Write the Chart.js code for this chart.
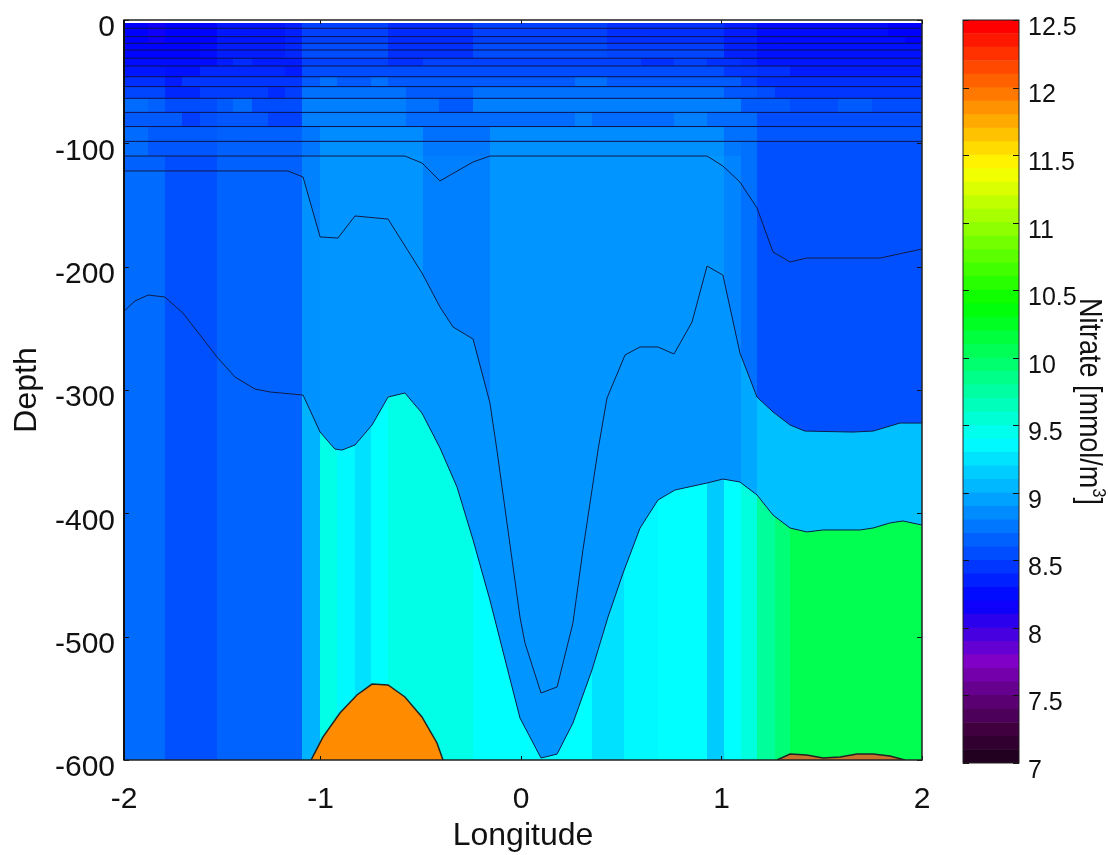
<!DOCTYPE html>
<html>
<head>
<meta charset="utf-8">
<title>Nitrate section</title>
<script src="https://cdn.jsdelivr.net/npm/chart.js@4/dist/chart.umd.min.js"></script>
<style>
    html, body { margin: 0; padding: 0; background: #fff; }
    canvas { position: absolute; top: 0; }
    #section { left: 0; }
    #colorbar { left: 940px; }
</style>
</head>
<body>
<canvas id="section" width="940" height="855"></canvas>
<canvas id="colorbar" width="168" height="855"></canvas>
<script>
const lonEdges = [-1.98,-1.86,-1.776,-1.691,-1.601,-1.516,-1.436,-1.342,-1.262,-1.177,-1.092,-1.002,-0.918,-0.828,-0.748,-0.663,-0.574,-0.489,-0.409,-0.324,-0.239,-0.155,-0.07,0.015,0.1,0.185,0.269,0.354,0.429,0.514,0.599,0.683,0.763,0.853,0.928,1.012,1.097,1.177,1.267,1.342,1.421,1.501,1.581,1.666,1.751,1.83,1.915,2]
const depthEdges = [-2.4,-6.7,-13.5,-18.9,-24.3,-31,-37.3,-46,-54,-63.5,-74.9,-86.4,-98.4,-110.3,-122.4]

// near surface cells, one row per depth layer, one value per column
const surfaceRow0 = [8.2,8.15,8.2,8.2,8.22,8.3,8.3,8.3,8.3,8.35, 8.5,8.5,8.5,8.5,8.5,8.4,8.4,8.4,8.4,8.4, 8.5,8.5,8.5,8.5,8.5,8.5,8.5,8.5,8.42,8.42, 8.42,8.42,8.42,8.42,8.42,8.33,8.33,8.25,8.25,8.25, 8.25,8.25,8.25,8.25,8.25,8.2,8.2]
const surfaceRow1 = [8.2,8.15,8.2,8.2,8.22,8.3,8.3,8.3,8.3,8.35, 8.5,8.5,8.5,8.5,8.5,8.4,8.4,8.4,8.4,8.4, 8.5,8.5,8.5,8.5,8.5,8.5,8.5,8.5,8.42,8.42, 8.42,8.42,8.42,8.42,8.42,8.33,8.33,8.25,8.25,8.25, 8.25,8.25,8.25,8.25,8.25,8.2,8.2]
const surfaceRow2 = [8.2,8.15,8.2,8.2,8.22,8.3,8.3,8.3,8.3,8.35, 8.5,8.5,8.5,8.5,8.5,8.4,8.4,8.4,8.4,8.4, 8.5,8.5,8.5,8.5,8.5,8.5,8.5,8.5,8.42,8.42, 8.42,8.42,8.42,8.42,8.42,8.33,8.33,8.25,8.25,8.25, 8.25,8.25,8.25,8.25,8.25,8.25,8.2]
const surfaceRow3 = [8.22,8.22,8.22,8.22,8.25,8.33,8.33,8.33,8.33,8.38, 8.55,8.55,8.55,8.55,8.55,8.42,8.42,8.42,8.42,8.42, 8.55,8.55,8.55,8.55,8.55,8.55,8.55,8.55,8.48,8.48, 8.48,8.48,8.48,8.48,8.48,8.35,8.35,8.28,8.28,8.28, 8.28,8.28,8.28,8.28,8.28,8.28,8.28]
const surfaceRow4 = [8.22,8.22,8.22,8.22,8.25,8.33,8.33,8.33,8.33,8.38, 8.55,8.55,8.55,8.55,8.55,8.42,8.42,8.42,8.42,8.42, 8.55,8.55,8.55,8.55,8.55,8.55,8.55,8.55,8.52,8.52, 8.52,8.52,8.52,8.52,8.52,8.35,8.35,8.28,8.28,8.28, 8.28,8.28,8.28,8.28,8.28,8.28,8.28]
const surfaceRow5 = [8.25,8.25,8.25,8.25,8.25,8.33,8.4,8.33,8.33,8.33, 8.5,8.5,8.5,8.5,8.5,8.42,8.42,8.5,8.5,8.5, 8.5,8.5,8.5,8.5,8.5,8.5,8.5,8.5,8.5,8.5, 8.42,8.42,8.5,8.5,8.42,8.42,8.38,8.3,8.3,8.3, 8.3,8.3,8.3,8.3,8.3,8.3,8.3]
const surfaceRow6 = [8.3,8.3,8.28,8.28,8.38,8.38,8.38,8.38,8.38,8.33, 8.55,8.55,8.55,8.55,8.55,8.55,8.55,8.55,8.55,8.55, 8.55,8.55,8.55,8.55,8.55,8.55,8.55,8.55,8.55,8.55, 8.55,8.55,8.55,8.55,8.55,8.45,8.45,8.42,8.42,8.33, 8.33,8.33,8.33,8.33,8.33,8.33,8.33]
const surfaceRow7 = [8.42,8.42,8.33,8.45,8.45,8.45,8.45,8.45,8.45,8.45, 8.62,8.72,8.62,8.62,8.72,8.62,8.62,8.62,8.62,8.62, 8.62,8.62,8.62,8.62,8.62,8.62,8.72,8.72,8.62,8.62, 8.62,8.62,8.62,8.62,8.62,8.62,8.5,8.42,8.42,8.42, 8.42,8.42,8.42,8.42,8.42,8.42,8.42]
const surfaceRow8 = [8.52,8.52,8.38,8.38,8.48,8.48,8.48,8.48,8.4,8.48, 8.72,8.72,8.72,8.72,8.72,8.72,8.62,8.62,8.62,8.62, 8.72,8.72,8.72,8.72,8.72,8.72,8.72,8.72,8.72,8.72, 8.72,8.72,8.72,8.72,8.72,8.6,8.6,8.55,8.45,8.45, 8.45,8.45,8.45,8.45,8.45,8.45,8.45]
const surfaceRow9 = [8.7,8.65,8.55,8.55,8.55,8.62,8.7,8.55,8.55,8.55, 8.79,8.79,8.79,8.79,8.79,8.79,8.72,8.72,8.62,8.62, 8.79,8.79,8.79,8.79,8.79,8.79,8.79,8.79,8.79,8.79, 8.79,8.79,8.79,8.79,8.79,8.79,8.62,8.62,8.62,8.55, 8.55,8.55,8.62,8.62,8.55,8.55,8.55]
const surfaceRow10 = [8.62,8.62,8.62,8.48,8.57,8.6,8.6,8.6,8.5,8.5, 8.79,8.79,8.79,8.79,8.79,8.79,8.7,8.7,8.7,8.7, 8.7,8.7,8.7,8.7,8.7,8.7,8.79,8.7,8.7,8.7, 8.7,8.7,8.79,8.79,8.7,8.7,8.7,8.55,8.55,8.55, 8.55,8.55,8.55,8.55,8.55,8.55,8.55]
const surfaceRow11 = [8.7,8.62,8.62,8.62,8.62,8.65,8.65,8.65,8.65,8.65, 8.75,8.85,8.85,8.85,8.85,8.85,8.85,8.72,8.72,8.72, 8.72,8.85,8.85,8.85,8.85,8.85,8.85,8.85,8.85,8.85, 8.85,8.85,8.85,8.85,8.85,8.72,8.72,8.6,8.6,8.6, 8.6,8.6,8.6,8.6,8.6,8.6,8.6]
const surfaceRow12 = [8.7,8.6,8.6,8.6,8.6,8.65,8.65,8.65,8.65,8.65, 8.75,8.87,8.87,8.87,8.87,8.87,8.87,8.76,8.76,8.76, 8.76,8.87,8.87,8.87,8.87,8.87,8.87,8.87,8.87,8.87, 8.87,8.87,8.87,8.87,8.87,8.76,8.72,8.57,8.57,8.57, 8.57,8.57,8.57,8.57,8.57,8.57,8.57]
const surfaceRow13 = [8.65,8.65,8.55,8.55,8.55,8.65,8.65,8.65,8.65,8.65, 8.8,8.89,8.89,8.89,8.89,8.89,8.89,8.79,8.79,8.79, 8.79,8.89,8.89,8.89,8.89,8.89,8.89,8.89,8.89,8.89, 8.89,8.89,8.89,8.89,8.89,8.81,8.72,8.57,8.57,8.57, 8.57,8.57,8.57,8.57,8.57,8.57,8.57]
const surfaceRows = [surfaceRow0,surfaceRow1,surfaceRow2,surfaceRow3,surfaceRow4,surfaceRow5,surfaceRow6,surfaceRow7,surfaceRow8,surfaceRow9,surfaceRow10,surfaceRow11,surfaceRow12,surfaceRow13]

// deep cells per column, one list for each water mass between the contours
const deepUpper = [8.7,8.7,8.57,8.57,8.57,8.66,8.66,8.66,8.66,8.66, 8.8,8.89,8.89,8.89,8.89,8.89,8.89,8.79,8.79,8.79, 8.79,8.89,8.89,8.89,8.89,8.89,8.89,8.89,8.89,8.89, 8.89,8.89,8.89,8.89,8.89,8.81,8.72,8.57,8.57,8.57, 8.57,8.57,8.57,8.57,8.57,8.57,8.57]
const deepMiddle = [8.7,8.7,8.57,8.57,8.57,8.66,8.66,8.66,8.66,8.66, 8.88,8.89,8.89,8.89,8.89,8.89,8.89,8.89,8.89,8.89, 8.89,8.89,8.89,8.89,8.89,8.89,8.89,8.89,8.89,8.89, 8.89,8.89,8.89,8.89,8.89,8.89,8.98,9.09,9.09,9.09, 9.09,9.09,9.09,9.09,9.09,9.09,9.09]
const deepLower = [8.7,8.7,8.57,8.57,8.57,8.66,8.66,8.66,8.66,8.66, 9.03,9.48,9.35,9.24,9.38,9.48,9.48,9.48,9.48,9.48, 9.38,9.38,9.38,9.38,9.38,9.38,9.38,9.24,9.24,9.35, 9.35,9.38,9.38,9.38,9.14,9.38,9.51,9.78,9.92,10.07, 10.07,10.07,10.07,10.07,10.07,10.07,10.07]

const surfaceLevels = [-6.7,-13.5,-18.9,-24.3,-31,-37.3,-46,-54,-63.5,-74.9,-86.4,-98.4]

const contourALon = [-1.98,-0.579,-0.494,-0.404,-0.239,-0.155,0.928,1.007,1.092,1.177,1.257,1.342,1.426,1.791,2]
const contourADepth = [-110.3,-110.3,-115.9,-130.5,-115.1,-110.3,-110.3,-118.4,-131.4,-152.4,-188.1,-196.2,-193,-193,-185.7]

const contourBLon = [-1.98,-1.162,-1.087,-1.002,-0.913,-0.828,-0.663,-0.494,-0.404,-0.339,-0.239,-0.155,-0.12,-0.005,0.02,0.1,0.18,0.259,0.309,0.384,0.429,0.519,0.594,0.683,0.763,0.853,0.928,1.007,1.092,1.177,1.257,1.342,1.416,1.656,1.756,1.89,2]
const contourBDepth = [-122.4,-122.4,-127.3,-175.9,-176.8,-158.9,-161.4,-205.1,-232.7,-248.9,-258.7,-310.5,-348.7,-484.1,-505.2,-545.7,-540.8,-488.9,-429.7,-348.7,-306.5,-271.6,-265.1,-265.1,-270.8,-244.9,-199.5,-206.8,-270,-305.7,-317.8,-328.4,-333.3,-334.1,-333.3,-326.8,-326.8]

const contourCLon = [-1.98,-1.925,-1.86,-1.776,-1.686,-1.601,-1.516,-1.426,-1.327,-1.252,-1.087,-1.002,-0.928,-0.893,-0.828,-0.743,-0.663,-0.579,-0.494,-0.404,-0.319,-0.239,-0.155,-0.07,-0.005,0.1,0.18,0.259,0.354,0.434,0.509,0.594,0.683,0.768,0.928,1.007,1.092,1.177,1.257,1.342,1.426,1.506,1.691,1.756,1.84,1.905,2]
const contourCDepth = [-236,-227.8,-223,-224.6,-237.6,-255.4,-273.3,-289.5,-299.2,-301.6,-304.1,-334.1,-347.9,-348.7,-344.6,-328.4,-305.7,-302.4,-318.7,-347,-378.7,-421.6,-470.3,-524.6,-566,-598.4,-595.2,-570,-527,-484.1,-448.4,-411.9,-389.2,-381.1,-375.4,-372.2,-374.6,-385.1,-401.4,-411.9,-415.1,-413.5,-413.5,-411.9,-407.8,-406.2,-409.5]

const patchWestLon = [-1.047,-0.988,-0.903,-0.818,-0.743,-0.663,-0.579,-0.494,-0.419,-0.389]
const patchWestDepth = [-600,-581.4,-561.9,-547.3,-538.4,-539.2,-548.9,-565.1,-586.2,-600]
const patchEastLon = [1.277,1.342,1.426,1.506,1.591,1.676,1.756,1.84,1.915]
const patchEastDepth = [-600,-595.2,-596,-598.4,-597.6,-595.2,-595.2,-596.8,-600]

const lonTicks = [-1.98,-1,0,1,2]
const lonTickLabels = ['-2','-1','0','1','2']
const depthTicks = [0,-100,-200,-300,-400,-500,-600]
const nitrateTicks = [7,7.5,8,8.5,9,9.5,10,10.5,11,11.5,12,12.5]

const colormapValues = [7,7.25,7.5,7.75,8.2,9.38,10.39,11.4,12.45,12.5]
const colormapColors = [[26,0,24],[64,0,64],[96,0,128],[128,0,200],[0,0,255],[0,255,255],[0,255,0],[255,255,0],[255,0,0],[230,0,0]]

const FONT = '"Liberation Sans", Arial, sans-serif'

function nitrateColor(v){
    let i = colormapValues.findIndex(limit => v <= limit)
    if(i <= 0) i = 1
    const t = (v - colormapValues[i-1]) / (colormapValues[i] - colormapValues[i-1])
    const a = colormapColors[i-1]
    const b = colormapColors[i]
    const rgb = a.map((c,k) => Math.round(c + (b[k]-c)*t))
    return `rgb(${rgb[0]},${rgb[1]},${rgb[2]})`
}

function toPoints(lons, depths){
    return lons.map((lon,i) => ({x:lon, y:depths[i]}))
}

function lineSet(lons, depths, extra){
    return Object.assign({
        data: toPoints(lons, depths),
        showLine: true,
        pointRadius: 0,
        borderColor: '#101c48',
        borderWidth: 1,
        tension: 0,
        fill: false
    }, extra)
}

// the axis labels should not push the plot area away from its place
function noMargins(scale){
    scale.paddingTop = 0
    scale.paddingBottom = 0
    scale.paddingLeft = 0
    scale.paddingRight = 0
}

const cellsPlugin = {
    id: 'nitrateCells',
    beforeDatasetsDraw(chart){
        const {ctx, scales:{x, y}} = chart
        const paintColumns = (values, top, bottom) => {
            values.forEach((v,i) => {
                const left = Math.round(x.getPixelForValue(lonEdges[i]))
                const right = Math.round(x.getPixelForValue(lonEdges[i+1]))
                ctx.fillStyle = nitrateColor(v)
                ctx.fillRect(left, top, right-left, bottom-top)
            })
        }
        const clipBelow = (lons, depths) => {
            ctx.beginPath()
            lons.forEach((lon,i) => {
                ctx.lineTo(x.getPixelForValue(lon), y.getPixelForValue(depths[i]))
            })
            ctx.lineTo(x.right, y.bottom)
            ctx.lineTo(x.left, y.bottom)
            ctx.closePath()
            ctx.clip()
        }
        surfaceRows.forEach((row,r) => {
            const top = Math.round(y.getPixelForValue(depthEdges[r]))
            const bottom = Math.round(y.getPixelForValue(depthEdges[r+1]))
            paintColumns(row, top, bottom)
        })
        const deepTop = Math.round(y.getPixelForValue(depthEdges[depthEdges.length-1]))
        paintColumns(deepUpper, deepTop, y.bottom)
        ctx.save()
        clipBelow(contourBLon, contourBDepth)
        paintColumns(deepMiddle, deepTop, y.bottom)
        ctx.restore()
        ctx.save()
        clipBelow(contourCLon, contourCDepth)
        paintColumns(deepLower, deepTop, y.bottom)
        ctx.restore()
    },
    afterDatasetsDraw(chart){
        const {ctx, chartArea:a, scales:{x, y}} = chart
        ctx.save()
        ctx.strokeStyle = '#111'
        ctx.lineWidth = 1
        ctx.beginPath()
        lonTicks.forEach(v => {
            const p = Math.round(x.getPixelForValue(v)) + 0.5
            ctx.moveTo(p, a.top); ctx.lineTo(p, a.top+4)
            ctx.moveTo(p, a.bottom); ctx.lineTo(p, a.bottom-4)
        })
        depthTicks.forEach(v => {
            const p = Math.round(y.getPixelForValue(v)) + 0.5
            ctx.moveTo(a.left, p); ctx.lineTo(a.left+5, p)
            ctx.moveTo(a.right, p); ctx.lineTo(a.right-5, p)
        })
        ctx.stroke()
        ctx.strokeStyle = '#222'
        ctx.lineWidth = 1.5
        ctx.strokeRect(a.left, a.top, a.right-a.left, a.bottom-a.top)
        ctx.strokeStyle = '#111'
        ctx.lineWidth = 2
        ctx.beginPath()
        ctx.moveTo(a.left, a.top)
        ctx.lineTo(a.left, a.bottom)
        ctx.stroke()
        ctx.restore()
    }
}

new Chart(document.getElementById('section'), {
    type: 'scatter',
    data: {
        datasets: [
            ...surfaceLevels.map(d => lineSet([-1.98,2], [d,d], {borderColor:'#0c1450'})),
            lineSet(contourALon, contourADepth),
            lineSet(contourBLon, contourBDepth),
            lineSet(contourCLon, contourCDepth),
            lineSet(patchWestLon, patchWestDepth, {fill:'start', backgroundColor:'#ff8c00', borderColor:'#222', borderWidth:1.5}),
            lineSet(patchEastLon, patchEastDepth, {fill:'start', backgroundColor:'#c8702c', borderColor:'#222', borderWidth:1.5})
        ]
    },
    options: {
        responsive: false,
        animation: false,
        layout: { padding: {top:20, right:18, left:0, bottom:0} },
        plugins: {
            legend: {display:false},
            tooltip: {enabled:false},
            filler: {drawTime:'beforeDatasetDraw'}
        },
        scales: {
            x: {
                type: 'linear',
                min: -1.98,
                max: 2,
                grid: {display:false, drawTicks:false},
                border: {display:false},
                afterBuildTicks(scale){ scale.ticks = lonTicks.map(v => ({value:v})) },
                afterFit(scale){ scale.height = 95; noMargins(scale) },
                ticks: {
                    padding: 22,
                    autoSkip: false,
                    maxRotation: 0,
                    color: '#111',
                    font: {family:FONT, size:30},
                    callback: (value, index) => lonTickLabels[index]
                },
                title: {display:true, text:'Longitude', color:'#111', font:{family:FONT, size:32}, padding:{top:0, bottom:0}}
            },
            y: {
                type: 'linear',
                min: -600,
                max: 0,
                grid: {display:false, drawTicks:false},
                border: {display:false},
                afterBuildTicks(scale){ scale.ticks = depthTicks.map(v => ({value:v})) },
                afterFit(scale){ scale.width = 124; noMargins(scale) },
                ticks: {
                    padding: 9,
                    labelOffset: 8,
                    autoSkip: false,
                    color: '#111',
                    font: {family:FONT, size:30}
                },
                title: {display:true, text:'Depth', color:'#111', font:{family:FONT, size:32}, padding:{top:8, bottom:0}}
            }
        }
    },
    plugins: [cellsPlugin]
})

// colour bar: one floating bar per colour level
const barLevels = []
for(let k = 0; k < 55; k++) barLevels.push(7 + k*0.1)

const barPlugin = {
    id: 'barFrame',
    afterDatasetsDraw(chart){
        const {ctx, chartArea:a, scales:{y}} = chart
        ctx.save()
        ctx.strokeStyle = '#111'
        ctx.lineWidth = 1
        ctx.beginPath()
        nitrateTicks.forEach(v => {
            const p = Math.round(y.getPixelForValue(v)) + 0.5
            ctx.moveTo(a.left, p); ctx.lineTo(a.left+6, p)
            ctx.moveTo(a.right, p); ctx.lineTo(a.right-6, p)
        })
        ctx.stroke()
        ctx.strokeStyle = '#222'
        ctx.strokeRect(a.left, a.top, a.right-a.left, a.bottom-a.top)
        // rotated title with a raised 3, the reference stretches it across
        ctx.translate(140, 298)
        ctx.rotate(Math.PI/2)
        ctx.scale(0.87, 1)
        ctx.fillStyle = '#111'
        ctx.textBaseline = 'alphabetic'
        ctx.font = `31px ${FONT}`
        ctx.fillText('Nitrate [mmol/m', 0, 0)
        let w = ctx.measureText('Nitrate [mmol/m').width
        ctx.font = `19px ${FONT}`
        ctx.fillText('3', w, -13)
        w += ctx.measureText('3').width
        ctx.font = `31px ${FONT}`
        ctx.fillText(']', w, 0)
        ctx.restore()
    }
}

new Chart(document.getElementById('colorbar'), {
    type: 'bar',
    data: {
        labels: [''],
        datasets: barLevels.map(v => ({
            data: [[v, v+0.1]],
            backgroundColor: nitrateColor(v+0.05),
            grouped: false,
            barPercentage: 1,
            categoryPercentage: 1
        }))
    },
    options: {
        responsive: false,
        animation: false,
        layout: { padding: {top:20, right:0, left:23, bottom:92} },
        plugins: { legend:{display:false}, tooltip:{enabled:false} },
        scales: {
            x: { display:false },
            y: {
                position: 'right',
                min: 7,
                max: 12.5,
                grid: {display:false, drawTicks:false},
                border: {display:false},
                afterBuildTicks(scale){ scale.ticks = nitrateTicks.map(v => ({value:v})) },
                afterFit(scale){ scale.width = 89; noMargins(scale) },
                ticks: {
                    padding: 9,
                    labelOffset: 8,
                    autoSkip: false,
                    color: '#111',
                    font: {family:FONT, size:25},
                    callback: value => String(value)
                }
            }
        }
    },
    plugins: [barPlugin]
})
</script>
</body>
</html>
